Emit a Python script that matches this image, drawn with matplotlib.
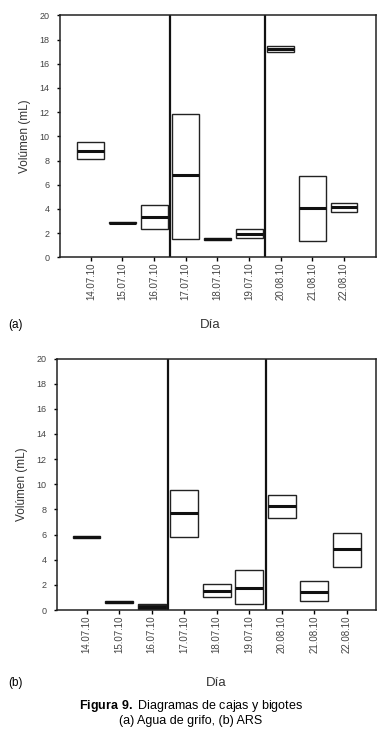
import matplotlib
matplotlib.use('Agg')
import matplotlib.pyplot as plt

plt.rcParams['font.family'] = ['Liberation Sans', 'DejaVu Sans']
plt.rcParams['mathtext.fontset'] = 'custom'
plt.rcParams['mathtext.rm'] = 'Liberation Sans'
plt.rcParams['mathtext.bf'] = 'Liberation Sans:bold'

dias = ['14.07.10', '15.07.10', '16.07.10', '17.07.10', '18.07.10',
        '19.07.10', '20.08.10', '21.08.10', '22.08.10']

# (a) Agua de grifo
q1_a = [8.1, 2.8, 2.3, 1.5, 1.45, 1.6, 16.97, 1.38, 3.75]
med_a = [8.8, 2.86, 3.35, 6.8, 1.52, 1.93, 17.2, 4.04, 4.13]
q3_a = [9.55, 2.9, 4.35, 11.88, 1.6, 2.3, 17.47, 6.7, 4.45]

# (b) ARS
q1_b = [5.7, 0.58, 0.05, 5.8, 1.0, 0.45, 7.28, 0.69, 3.42]
med_b = [5.77, 0.64, 0.25, 7.71, 1.54, 1.77, 8.29, 1.46, 4.82]
q3_b = [5.85, 0.7, 0.45, 9.56, 2.04, 3.2, 9.11, 2.28, 6.15]

yticks = [0, 2, 4, 6, 8, 10, 12, 14, 16, 18, 20]
separadores = [2.5, 5.5]


def panel(ax, q1, med, q3, xlim):
    stats = []
    for i in range(len(dias)):
        stats.append({'q1': q1[i], 'med': med[i], 'q3': q3[i],
                      'whislo': q1[i], 'whishi': q3[i], 'fliers': []})
    res = ax.bxp(stats, positions=range(len(dias)), widths=0.85,
                 showcaps=False, showfliers=False, patch_artist=True,
                 boxprops=dict(edgecolor='#222222', facecolor='white',
                               linewidth=1.0),
                 medianprops=dict(color='#111111', linewidth=2.2),
                 whiskerprops=dict(linewidth=0))
    for s in separadores:
        ax.axvline(s, color='#111111', linewidth=1.6)
    ax.set_xlim(xlim)
    ax.set_ylim(0, 20)
    ax.set_yticks(yticks)
    ax.set_xticks(range(len(dias)))
    ax.set_xticklabels(dias, rotation=90, fontsize=7, color='#444444')
    ax.tick_params(axis='y', labelsize=6.5, labelcolor='#444444', length=2.5,
                   width=1, direction='out', pad=5)
    ax.tick_params(axis='x', length=3, width=1, direction='out', pad=1)
    for sp in ax.spines.values():
        sp.set_linewidth(1.1)
        sp.set_color('#222222')
    ax.set_ylabel('Volúmen (mL)', fontsize=8.5, color='#333333', labelpad=6)
    return res


fig = plt.figure(figsize=(3.81, 7.31), dpi=100)

ax1 = fig.add_axes([0.157, 0.648, 0.829, 0.331])
panel(ax1, q1_a, med_a, q3_a, (-0.98, 9.0))

ax2 = fig.add_axes([0.149, 0.1655, 0.838, 0.344])
res_b = panel(ax2, q1_b, med_b, q3_b, (-0.92, 8.9))
# la caja del 16.07.10 aparece rellena en el original
res_b['boxes'][2].set_facecolor('#222222')

fig.text(8 / 381, 1 - 325 / 731, '(a)', fontsize=8.5, va='center', ha='left')
fig.text(210 / 381, 1 - 325 / 731, 'Día', fontsize=9.5, va='center',
         ha='center', color='#333333')
fig.text(8 / 381, 1 - 683 / 731, '(b)', fontsize=8.5, va='center', ha='left')
fig.text(216 / 381, 1 - 683 / 731, 'Día', fontsize=9.5, va='center',
         ha='center', color='#333333')

fig.text(191 / 381, 1 - 706 / 731,
         r'$\bf{Figura\ 9.}$ Diagramas de cajas y bigotes',
         fontsize=9, va='center', ha='center')
fig.text(191 / 381, 1 - 721 / 731, '(a) Agua de grifo, (b) ARS',
         fontsize=9, va='center', ha='center')

fig.savefig('out.png', dpi=100, facecolor='white')
